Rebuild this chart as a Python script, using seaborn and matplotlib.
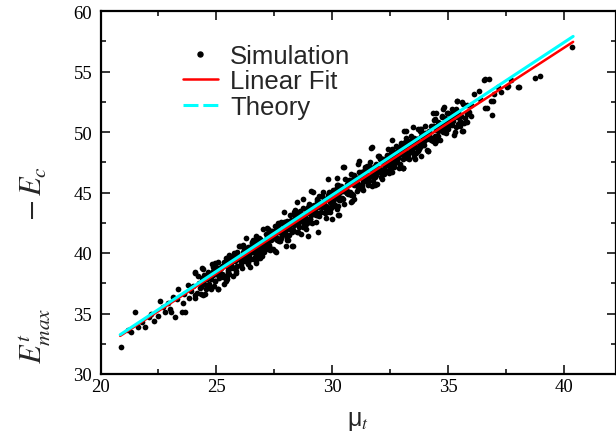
import numpy as np
import pandas as pd
import matplotlib
matplotlib.use("Agg")
import matplotlib.pyplot as plt
import seaborn as sns
from matplotlib.lines import Line2D
from matplotlib.ticker import MultipleLocator

# === Simulation points ===
# dense band along the fit (mu_t, E^t_max - E_c)
sim_band_a = [
    (24.0, 37.26), (24.1, 36.49), (24.2, 38.11), (24.3, 37.14), (24.4, 37.96), (24.5, 36.59),
    (24.6, 37.81), (24.7, 37.44), (24.8, 39.06), (24.9, 37.29), (25.0, 38.81), (25.1, 38.23),
    (25.2, 38.76), (25.3, 37.98), (25.4, 39.61), (25.5, 38.63), (25.6, 39.46), (25.7, 38.08),
    (25.8, 39.31), (25.9, 38.93), (26.0, 40.56), (26.1, 38.78), (26.2, 40.31), (26.3, 39.73),
    (26.4, 40.25), (26.5, 39.48), (26.6, 41.10), (26.7, 40.13), (26.8, 40.95), (26.9, 39.58),
    (27.0, 40.80), (27.1, 40.43), (27.2, 42.05), (27.3, 40.28), (27.4, 41.80), (27.5, 41.23),
    (27.6, 41.75), (27.7, 40.97), (27.8, 42.60), (27.9, 41.62), (28.0, 42.45), (28.1, 41.07),
    (28.2, 42.30), (28.3, 41.92), (28.4, 43.55), (28.5, 41.77), (28.6, 43.30), (28.7, 42.72),
    (28.8, 43.24), (28.9, 42.47), (29.0, 44.09), (29.1, 43.12), (29.2, 43.94), (29.3, 42.57),
    (29.4, 43.79), (29.5, 43.42), (29.6, 45.04), (29.7, 43.27), (29.8, 44.79), (29.9, 44.22),
    (30.0, 44.74), (30.1, 43.96), (30.2, 45.59), (30.3, 44.61), (30.4, 45.44), (30.5, 44.06),
    (30.6, 45.29), (30.7, 44.91), (30.8, 46.54), (30.9, 44.76), (31.0, 46.29), (31.1, 45.71),
    (31.2, 46.24), (31.3, 45.46), (31.4, 47.08), (31.5, 46.11), (31.6, 46.93), (31.7, 45.56),
    (31.8, 46.78), (31.9, 46.41), (32.0, 48.03), (32.1, 46.26), (32.2, 47.78), (32.3, 47.21),
    (32.4, 47.73), (32.5, 46.96), (32.6, 48.58), (32.7, 47.60), (32.8, 48.43), (32.9, 47.05),
    (33.0, 48.28), (33.1, 47.90), (33.2, 49.53), (33.3, 47.75), (33.4, 49.28), (33.5, 48.70),
    (33.6, 49.23), (33.7, 48.45), (33.8, 50.07), (33.9, 49.10), (34.0, 49.92), (34.1, 48.55),
    (34.2, 49.77), (34.3, 49.40), (34.4, 51.02), (34.5, 49.25), (34.6, 50.77), (34.7, 50.20),
    (34.8, 50.72), (34.9, 49.95), (35.0, 51.57), (35.1, 50.59), (35.2, 51.42), (35.3, 50.04),
    (35.4, 51.27), (35.5, 50.89), (35.6, 52.52), (35.7, 50.74), (35.8, 52.27), (35.9, 51.69),
    (36.0, 52.22),
]
sim_band_b = [
    (24.55, 37.35), (24.65, 38.47), (24.75, 37.00), (24.85, 38.22), (24.95, 37.65), (25.05, 39.27),
    (25.15, 38.29), (25.25, 38.92), (25.35, 37.44), (25.45, 39.57), (25.55, 38.29), (25.65, 38.72),
    (25.75, 39.84), (25.85, 38.37), (25.95, 39.59), (26.05, 39.02), (26.15, 40.64), (26.25, 39.67),
    (26.35, 40.29), (26.45, 38.81), (26.55, 40.94), (26.65, 39.66), (26.75, 40.09), (26.85, 41.21),
    (26.95, 39.74), (27.05, 40.96), (27.15, 40.39), (27.25, 42.01), (27.35, 41.04), (27.45, 41.66),
    (27.55, 40.19), (27.65, 42.31), (27.75, 41.03), (27.85, 41.46), (27.95, 42.58), (28.05, 41.11),
    (28.15, 42.33), (28.25, 41.76), (28.35, 43.38), (28.45, 42.41), (28.55, 43.03), (28.65, 41.56),
    (28.75, 43.68), (28.85, 42.40), (28.95, 42.83), (29.05, 43.95), (29.15, 42.48), (29.25, 43.70),
    (29.35, 43.13), (29.45, 44.75), (29.55, 43.78), (29.65, 44.40), (29.75, 42.93), (29.85, 45.05),
    (29.95, 43.78), (30.05, 44.20), (30.15, 45.32), (30.25, 43.85), (30.35, 45.07), (30.45, 44.50),
    (30.55, 46.12), (30.65, 45.15), (30.75, 45.77), (30.85, 44.30), (30.95, 46.42), (31.05, 45.15),
    (31.15, 45.57), (31.25, 46.70), (31.35, 45.22), (31.45, 46.44), (31.55, 45.87), (31.65, 47.49),
    (31.75, 46.52), (31.85, 47.14), (31.95, 45.67), (32.05, 47.79), (32.15, 46.52), (32.25, 46.94),
    (32.35, 48.07), (32.45, 46.59), (32.55, 47.82), (32.65, 47.24), (32.75, 48.86), (32.85, 47.89),
    (32.95, 48.51), (33.05, 47.04), (33.15, 49.16), (33.25, 47.89), (33.35, 48.31), (33.45, 49.44),
    (33.55, 47.96), (33.65, 49.19), (33.75, 48.61), (33.85, 50.23), (33.95, 49.26), (34.05, 49.88),
    (34.15, 48.41), (34.25, 50.53), (34.35, 49.26), (34.45, 49.68), (34.55, 50.81), (34.65, 49.33),
    (34.75, 50.56), (34.85, 49.98), (34.95, 51.61), (35.05, 50.63), (35.15, 51.25), (35.25, 49.78),
    (35.35, 51.90), (35.45, 50.63),
]
sim_band_c = [
    (26.03, 39.50), (26.13, 40.07), (26.23, 39.30), (26.33, 40.07), (26.43, 39.74), (26.53, 40.82),
    (26.63, 39.54), (26.73, 40.37), (26.83, 40.94), (26.93, 40.17), (27.03, 40.94), (27.13, 40.62),
    (27.23, 41.69), (27.33, 40.42), (27.43, 41.24), (27.53, 41.82), (27.63, 41.04), (27.73, 41.81),
    (27.83, 41.49), (27.93, 42.56), (28.03, 41.29), (28.13, 42.11), (28.23, 42.69), (28.33, 41.91),
    (28.43, 42.69), (28.53, 42.36), (28.63, 43.44), (28.73, 42.16), (28.83, 42.98), (28.93, 43.56),
    (29.03, 42.78), (29.13, 43.56), (29.23, 43.23), (29.33, 44.31), (29.43, 43.03), (29.53, 43.86),
    (29.63, 44.43), (29.73, 43.66), (29.83, 44.43), (29.93, 44.11), (30.03, 45.18), (30.13, 43.90),
    (30.23, 44.73), (30.33, 45.30), (30.43, 44.53), (30.53, 45.30), (30.63, 44.98), (30.73, 46.05),
    (30.83, 44.78), (30.93, 45.60), (31.03, 46.18), (31.13, 45.40), (31.23, 46.18), (31.33, 45.85),
    (31.43, 46.92), (31.53, 45.65), (31.63, 46.47), (31.73, 47.05), (31.83, 46.27), (31.93, 47.05),
    (32.03, 46.72), (32.13, 47.80), (32.23, 46.52), (32.33, 47.35), (32.43, 47.92), (32.53, 47.15),
    (32.63, 47.92), (32.73, 47.59), (32.83, 48.67), (32.93, 47.39), (33.03, 48.22), (33.13, 48.79),
    (33.23, 48.02), (33.33, 48.79), (33.43, 48.47), (33.53, 49.54), (33.63, 48.27), (33.73, 49.09),
    (33.83, 49.66), (33.93, 48.89),
]
sim_band_d = [
    (24.25, 37.52), (24.35, 37.15), (24.45, 38.17), (24.55, 37.00), (24.65, 38.22), (24.75, 37.85),
    (24.85, 38.87), (24.95, 37.70), (25.05, 38.37), (25.15, 38.64), (25.25, 38.27), (25.35, 39.29),
    (25.45, 38.12), (25.55, 39.34), (25.65, 38.97), (25.75, 39.99), (25.85, 38.82), (25.95, 39.49),
    (26.05, 39.77), (26.15, 39.39), (26.25, 40.42), (26.35, 39.24), (26.45, 40.46), (26.55, 40.09),
    (26.65, 41.11), (26.75, 39.94), (26.85, 40.61), (26.95, 40.89), (27.05, 40.51), (27.15, 41.54),
    (27.25, 40.36), (27.35, 41.59), (27.45, 41.21), (27.55, 42.24), (27.65, 41.06), (27.75, 41.73),
    (27.85, 42.01), (27.95, 41.63), (28.05, 42.66), (28.15, 41.48), (28.25, 42.71), (28.35, 42.33),
    (28.45, 43.36), (28.55, 42.18), (28.65, 42.86), (28.75, 43.13), (28.85, 42.75), (28.95, 43.78),
    (29.05, 42.60), (29.15, 43.83), (29.25, 43.45), (29.35, 44.48), (29.45, 43.30), (29.55, 43.98),
    (29.65, 44.25), (29.75, 43.88), (29.85, 44.90), (29.95, 43.73), (30.05, 44.95), (30.15, 44.57),
    (30.25, 45.60), (30.35, 44.42), (30.45, 45.10), (30.55, 45.37), (30.65, 45.00), (30.75, 46.02),
    (30.85, 44.85), (30.95, 46.07), (31.05, 45.70), (31.15, 46.72), (31.25, 45.55), (31.35, 46.22),
    (31.45, 46.49), (31.55, 46.12), (31.65, 47.14), (31.75, 45.97), (31.85, 47.19), (31.95, 46.82),
    (32.05, 47.84), (32.15, 46.67), (32.25, 47.34), (32.35, 47.62), (32.45, 47.24), (32.55, 48.27),
    (32.65, 47.09), (32.75, 48.31), (32.85, 47.94), (32.95, 48.96), (33.05, 47.79), (33.15, 48.46),
    (33.25, 48.74), (33.35, 48.36), (33.45, 49.39), (33.55, 48.21), (33.65, 49.44), (33.75, 49.06),
    (33.85, 50.08), (33.95, 48.91), (34.05, 49.58), (34.15, 49.86), (34.25, 49.48), (34.35, 50.51),
    (34.45, 49.33), (34.55, 50.56), (34.65, 50.18), (34.75, 51.21), (34.85, 50.03), (34.95, 50.71),
    (35.05, 50.98), (35.15, 50.60), (35.25, 51.63), (35.35, 50.45), (35.45, 51.68), (35.55, 51.30),
    (35.65, 52.33), (35.75, 51.15),
]
sim_band_e = [
    (25.08, 38.21), (25.18, 38.83), (25.28, 38.16), (25.38, 39.28), (25.48, 38.96), (25.58, 38.83),
    (25.68, 39.46), (25.78, 38.78), (25.88, 39.91), (25.98, 39.58), (26.08, 39.46), (26.18, 40.08),
    (26.28, 39.41), (26.38, 40.53), (26.48, 40.20), (26.58, 40.08), (26.68, 40.70), (26.78, 40.03),
    (26.88, 41.15), (26.98, 40.83), (27.08, 40.70), (27.18, 41.33), (27.28, 40.65), (27.38, 41.78),
    (27.48, 41.45), (27.58, 41.33), (27.68, 41.95), (27.78, 41.27), (27.88, 42.40), (27.98, 42.07),
    (28.08, 41.95), (28.18, 42.57), (28.28, 41.90), (28.38, 43.02), (28.48, 42.70), (28.58, 42.57),
    (28.68, 43.20), (28.78, 42.52), (28.88, 43.64), (28.98, 43.32), (29.08, 43.19), (29.18, 43.82),
    (29.28, 43.14), (29.38, 44.27), (29.48, 43.94), (29.58, 43.82), (29.68, 44.44), (29.78, 43.77),
    (29.88, 44.89), (29.98, 44.57), (30.08, 44.44), (30.18, 45.06), (30.28, 44.39), (30.38, 45.51),
    (30.48, 45.19), (30.58, 45.06), (30.68, 45.69), (30.78, 45.01), (30.88, 46.14), (30.98, 45.81),
    (31.08, 45.69), (31.18, 46.31), (31.28, 45.64), (31.38, 46.76), (31.48, 46.43), (31.58, 46.31),
    (31.68, 46.93), (31.78, 46.26), (31.88, 47.38), (31.98, 47.06), (32.08, 46.93), (32.18, 47.56),
    (32.28, 46.88), (32.38, 48.01), (32.48, 47.68), (32.58, 47.56), (32.68, 48.18), (32.78, 47.50),
    (32.88, 48.63), (32.98, 48.30), (33.08, 48.18), (33.18, 48.80), (33.28, 48.13), (33.38, 49.25),
    (33.48, 48.93), (33.58, 48.80), (33.68, 49.43), (33.78, 48.75), (33.88, 49.87), (33.98, 49.55),
    (34.08, 49.42), (34.18, 50.05), (34.28, 49.37), (34.38, 50.50), (34.48, 50.17), (34.58, 50.05),
    (34.68, 50.67), (34.78, 50.00), (34.88, 51.12), (34.98, 50.80),
]
# scattered points at the ends and edges of the cloud
sim_edges = [
    (20.87, 32.26), (21.5, 35.1), (21.3, 33.5), (21.6, 33.86), (21.94, 33.9), (22.1, 34.7),
    (22.33, 34.4), (22.58, 36.06), (22.48, 34.8), (22.77, 35.1), (22.99, 35.4), (23.03, 35.1),
    (23.2, 34.7), (23.14, 36.4), (23.35, 37.0), (23.5, 35.15), (23.65, 35.15), (23.57, 35.9),
    (23.76, 37.36), (23.82, 36.3), (24.08, 36.3), (24.16, 36.7), (24.08, 38.35), (24.4, 38.76),
    (24.35, 36.6), (24.45, 37.4), (24.6, 38.0), (24.67, 37.3), (24.84, 38.5), (24.88, 39.0),
    (24.96, 39.2), (25.07, 37.0), (25.13, 37.9), (25.3, 38.1), (25.4, 37.7), (25.5, 38.45),
    (25.54, 39.8), (25.69, 39.5), (25.83, 38.5), (25.9, 40.05), (25.98, 40.6), (26.05, 39.2),
    (26.24, 40.05), (26.27, 41.2), (26.4, 39.6), (26.53, 40.7), (26.7, 39.2), (26.7, 41.4),
    (26.85, 40.5), (27.0, 42.0), (27.07, 40.05), (27.2, 40.9), (27.3, 41.7), (27.44, 40.3),
    (27.58, 40.05), (27.66, 42.5), (27.8, 41.2), (27.9, 42.3), (28.0, 40.6), (28.28, 40.6),
    (28.17, 43.1), (28.46, 44.2), (28.53, 41.7), (28.75, 44.46), (28.87, 42.0), (29.04, 42.8),
    (29.16, 45.06), (29.33, 43.9), (29.4, 41.7), (29.55, 44.7), (29.77, 43.4), (29.84, 46.1),
    (29.99, 42.8), (30.2, 43.6), (30.28, 43.1), (30.47, 47.1), (30.64, 45.7), (30.8, 44.2),
    (30.94, 44.46), (31.15, 47.6), (31.3, 45.3), (31.52, 47.2), (31.67, 48.7), (31.8, 45.7),
    (31.96, 48.0), (32.17, 46.1), (32.4, 48.6), (32.47, 46.7), (32.6, 49.3), (32.76, 47.5),
    (32.98, 49.1), (33.05, 47.0), (33.12, 50.1), (33.27, 48.3), (33.4, 49.7), (33.56, 47.8),
    (33.7, 50.25), (33.85, 48.0), (34.0, 50.5), (34.14, 48.46), (34.36, 51.6), (34.43, 49.1),
    (34.58, 49.7), (34.73, 51.35), (34.84, 52.1), (34.87, 50.4), (35.17, 51.9), (35.38, 52.6),
    (35.53, 50.5), (35.6, 50.1), (35.82, 50.8), (35.9, 51.5), (36.0, 51.35), (36.1, 53.1),
    (36.33, 53.4), (36.4, 52.7), (36.55, 54.3), (36.58, 52.0), (36.77, 54.4), (36.84, 52.6),
    (36.9, 51.4), (36.99, 53.1), (37.14, 53.7), (37.28, 53.3), (37.57, 53.8), (37.72, 54.3),
    (38.0, 53.7), (38.08, 53.7), (38.77, 54.46), (38.98, 54.6), (40.37, 57.05),
    (36.6, 54.4), (36.67, 52.0), (36.95, 52.6), (37.53, 53.7), (35.66, 50.1), (35.37, 52.6),
    (34.8, 51.9), (34.5, 51.6), (34.44, 51.07), (35.1, 51.5), (35.2, 50.9), (35.0, 50.25),
    (33.8, 50.25), (33.5, 50.4), (33.2, 50.1), (34.3, 49.4), (35.8, 51.5), (31.7, 48.8),
    (30.5, 47.1), (29.1, 45.1), (33.07, 47.0), (32.6, 46.7), (31.85, 45.6), (30.26, 43.1),
    (29.9, 43.4), (28.97, 41.4), (28.3, 40.6), (26.7, 39.3), (27.9, 43.4), (31.13, 47.36),
    (30.2, 46.2), (25.08, 37.0), (24.44, 38.7), (24.1, 38.4), (24.44, 36.5), (26.38, 39.1),
    (25.45, 37.85), (22.2, 35.0), (22.9, 35.9), (23.3, 36.2), (23.9, 36.9), (22.7, 35.5),
    (23.6, 36.6), (21.8, 34.3), (21.2, 33.6),
]

# fitted and theoretical lines (end points)
line_mu = [20.85, 40.4]
fit_gap = [33.15, 57.45]
theory_gap = [33.25, 57.9]

legend_labels = ["Simulation", "Linear Fit", "Theory"]

sim = pd.DataFrame(sim_band_a + sim_band_b + sim_band_c + sim_band_d + sim_band_e + sim_edges,
                   columns=["mu", "gap"])

sns.set_style("ticks")
plt.rcParams["font.family"] = ["Liberation Serif", "DejaVu Serif"]
plt.rcParams["mathtext.fontset"] = "stix"

fig = plt.figure(figsize=(6.16, 4.39), dpi=100)
ax = fig.add_axes([100.5 / 616, 1 - 375 / 439, 515.5 / 616, 363 / 439])

sns.scatterplot(data=sim, x="mu", y="gap", color="black", s=17, linewidth=0,
                legend=False, ax=ax, zorder=2)
sns.lineplot(x=line_mu, y=fit_gap, color="#ff0000", lw=1.8, ax=ax, zorder=3)
sns.lineplot(x=line_mu, y=theory_gap, color="#00ffff", lw=2.2, ax=ax, zorder=4)

ax.set_xlim(20, 42.25)
ax.set_ylim(30, 60)
ax.xaxis.set_major_locator(MultipleLocator(5))
ax.xaxis.set_minor_locator(MultipleLocator(2.5))
ax.yaxis.set_major_locator(MultipleLocator(5))
ax.yaxis.set_minor_locator(MultipleLocator(2.5))

for sp in ax.spines.values():
    sp.set_visible(True)
    sp.set_linewidth(1.6)
    sp.set_color("black")

ax.tick_params(which="both", direction="in", top=True, right=True, colors="black",
               labelsize=13.5, width=1.1)
ax.tick_params(which="major", length=6.5)
ax.tick_params(which="minor", length=3.5)
ax.tick_params(axis="x", pad=3)
ax.tick_params(axis="y", pad=6)

ax.set_xlabel(r"μ$_{t}$", fontsize=18, family=["Liberation Sans", "DejaVu Sans"])
ax.xaxis.set_label_coords(0.5, -0.095)
ax.set_ylabel(r"$E^{t}_{max}\quad\quad\quad\quad{-}\,E_{c}$", fontsize=22)
ax.yaxis.set_label_coords(-0.092, 0.303)

handles = [
    Line2D([], [], marker="o", ls="none", color="black", markersize=3.6),
    Line2D([], [], color="#ff0000", lw=1.8),
    Line2D([], [], color="#00ffff", lw=2.2, dashes=(4.9, 1.6)),
]
ax.legend(handles, legend_labels, loc="upper left", bbox_to_anchor=(183 / 616, 1 - 45 / 439),
          bbox_transform=fig.transFigure, frameon=False, borderpad=0, borderaxespad=0,
          handlelength=1.36, handletextpad=0.47, labelspacing=0.05, numpoints=1,
          prop={"family": "Liberation Sans", "size": 18.5})

plt.savefig("out.png", dpi=100)
plt.close()
